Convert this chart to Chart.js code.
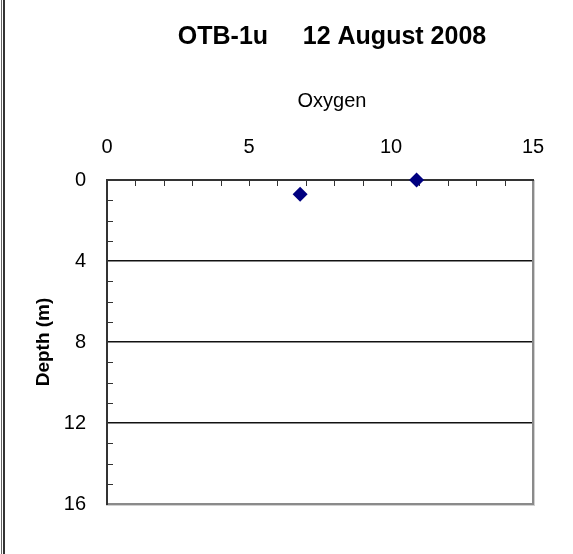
<!DOCTYPE html>
<html>
<head>
<meta charset="utf-8">
<script src="https://cdn.jsdelivr.net/npm/chart.js@4/dist/chart.umd.min.js"></script>
<style>
html,body{margin:0;padding:0;background:#fff;overflow:hidden;width:573px;height:554px;}
#wrap{position:relative;width:573px;height:554px;overflow:hidden;}
#c{position:absolute;left:0;top:0;}
.bl{position:absolute;top:0;height:554px;background:#444;}
</style>
</head>
<body>
<div id="wrap">
<canvas id="c" width="664" height="554"></canvas>
<div class="bl" style="left:1px;width:1px;background:#666"></div>
<div class="bl" style="left:3px;width:2px;background:#333"></div>
</div>
<script>
// Data
const oxygen = [10.9, 6.8];
const depth = [0, 0.7];
const titleText = 'OTB-1u     12 August 2008';
const xAxisTitle = 'Oxygen';
const yAxisTitle = 'Depth (m)';
const xMinorTicks = [1, 2, 3, 4, 5, 6, 7, 8, 9, 10, 11, 12, 13, 14];
const yMinorTicks = [1, 2, 3, 5, 6, 7, 9, 10, 11, 13, 14, 15];
const yGridValues = [4, 8, 12];

const points = oxygen.map((v, i) => ({x: v, y: depth[i]}));
const FONT = "'Liberation Sans', Arial, sans-serif";

const framePlugin = {
  id: 'frame',
  beforeDatasetsDraw(chart) {
    const {ctx, chartArea: a, scales} = chart;
    ctx.save();
    const L = Math.round(a.left), R = Math.round(a.right), T = Math.round(a.top), B = Math.round(a.bottom);
    ctx.fillStyle = '#8a8a8a';
    ctx.fillRect(R - 1, T, 2, B - T + 1);
    ctx.fillRect(L - 1, B - 1, R - L + 2, 2);
    ctx.fillStyle = '#d0d0d0';
    ctx.fillRect(R + 1, T, 1, B - T + 2);
    ctx.fillRect(L - 1, B + 1, R - L + 3, 1);
    ctx.fillStyle = '#333';
    ctx.fillRect(L - 1, T - 1, R - L + 2, 2);
    ctx.fillRect(L - 1, T - 1, 2, B - T + 2);
    ctx.strokeStyle = '#333';
    ctx.lineWidth = 1;
    ctx.beginPath();
    xMinorTicks.forEach(v => {
      const px = Math.round(scales.x.getPixelForValue(v)) + 0.5;
      ctx.moveTo(px, T);
      ctx.lineTo(px, T + 6);
    });
    yMinorTicks.forEach(v => {
      const py = Math.round(scales.y.getPixelForValue(v)) + 0.5;
      ctx.moveTo(L, py);
      ctx.lineTo(L + 6, py);
    });
    ctx.stroke();
    ctx.restore();
  }
};

new Chart(document.getElementById('c'), {
  type: 'scatter',
  data: {
    datasets: [{
      data: points,
      pointStyle: 'rectRot',
      pointRadius: 7.5,
      pointHoverRadius: 7.5,
      backgroundColor: '#000080',
      borderColor: '#000080',
      borderWidth: 0,
      clip: false
    }]
  },
  options: {
    responsive: false,
    animation: false,
    events: [],
    layout: {padding: {left: 0, right: 0, top: 0, bottom: 50}},
    plugins: {
      legend: {display: false},
      tooltip: {enabled: false},
      title: {
        display: true,
        text: titleText,
        color: '#000',
        font: {family: FONT, size: 25, weight: 'bold'},
        padding: {top: 22, bottom: 0}
      },
      subtitle: {
        display: true,
        text: xAxisTitle,
        color: '#000',
        font: {family: FONT, size: 20, weight: 'normal'},
        padding: {top: 37, bottom: 0}
      }
    },
    scales: {
      x: {
        type: 'linear',
        position: 'top',
        min: 0,
        max: 15,
        grid: {display: false},
        border: {display: false},
        ticks: {stepSize: 5, color: '#000', padding: 13, font: {family: FONT, size: 20}},
        afterFit(s) { s.height = 67; }
      },
      y: {
        type: 'linear',
        reverse: true,
        min: 0,
        max: 16,
        grid: {
          drawTicks: false,
          lineWidth: 1.5,
          color: c => yGridValues.includes(c.tick.value) ? '#111' : 'rgba(0,0,0,0)'
        },
        border: {display: false},
        ticks: {stepSize: 4, color: '#000', padding: 21, font: {family: FONT, size: 20}},
        title: {
          display: true,
          text: yAxisTitle,
          color: '#000',
          font: {family: FONT, size: 19, weight: 'bold'},
          padding: {top: 32, bottom: 0}
        },
        afterFit(s) { s.width = 107; }
      },
      yRight: {
        type: 'linear',
        position: 'right',
        display: true,
        grid: {display: false},
        border: {display: false},
        ticks: {display: false},
        afterFit(s) { s.width = 131; }
      }
    }
  },
  plugins: [framePlugin]
});
</script>
</body>
</html>
